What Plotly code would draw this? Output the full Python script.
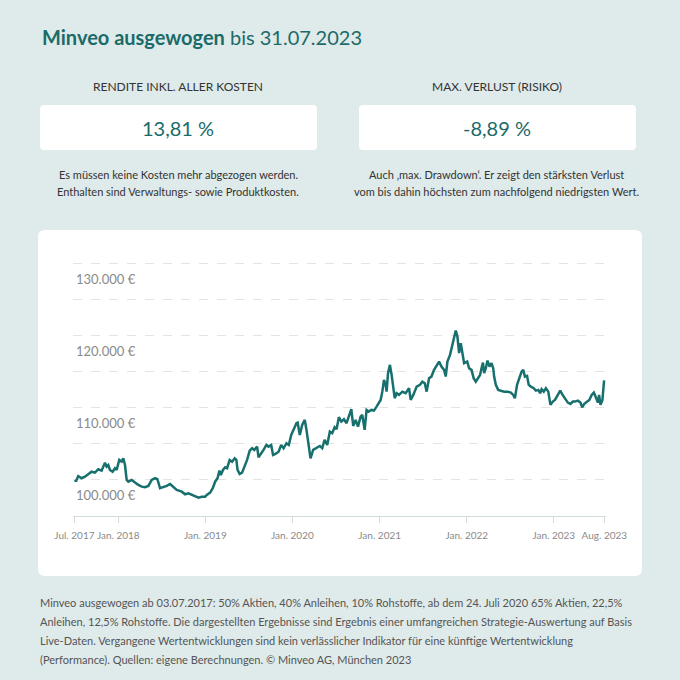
import plotly.graph_objects as go

# --- Daten ---
dates = [
    "2017-07-03", "2017-07-07", "2017-07-17", "2017-07-31", "2017-08-14", "2017-08-28",
    "2017-09-11", "2017-09-25", "2017-10-09", "2017-10-23", "2017-11-06", "2017-11-13",
    "2017-11-20", "2017-11-27", "2017-12-08", "2017-12-18", "2017-12-25", "2018-01-05",
    "2018-01-15", "2018-01-22", "2018-01-29", "2018-02-05", "2018-02-12", "2018-02-26",
    "2018-03-12", "2018-03-26", "2018-04-09", "2018-04-23", "2018-05-07", "2018-05-21",
    "2018-06-04", "2018-06-14", "2018-06-25", "2018-07-09", "2018-07-23", "2018-08-06",
    "2018-08-20", "2018-09-03", "2018-09-24", "2018-10-08", "2018-10-22", "2018-11-05",
    "2018-11-19", "2018-12-03", "2018-12-17", "2018-12-31",
    "2019-01-07", "2019-01-21", "2019-02-01", "2019-02-11", "2019-02-21", "2019-03-01",
    "2019-03-07", "2019-03-16", "2019-03-25", "2019-04-02", "2019-04-13", "2019-04-23",
    "2019-05-04", "2019-05-11", "2019-05-16", "2019-05-25", "2019-06-04", "2019-06-13",
    "2019-06-25", "2019-07-06", "2019-07-16", "2019-07-25", "2019-08-06", "2019-08-12",
    "2019-08-23", "2019-09-02", "2019-09-14", "2019-09-23", "2019-10-04", "2019-10-12",
    "2019-10-22", "2019-11-04", "2019-11-15", "2019-11-25", "2019-12-07", "2019-12-17",
    "2019-12-27",
    "2020-01-07", "2020-01-18", "2020-01-23", "2020-02-01", "2020-02-11", "2020-02-22",
    "2020-02-29", "2020-03-10", "2020-03-17", "2020-03-28", "2020-04-11", "2020-04-25",
    "2020-05-05", "2020-05-15", "2020-05-26", "2020-06-06", "2020-06-16", "2020-06-26",
    "2020-07-04", "2020-07-14", "2020-07-24", "2020-08-04", "2020-08-15", "2020-08-25",
    "2020-09-04", "2020-09-12", "2020-09-22", "2020-10-02", "2020-10-13", "2020-10-20",
    "2020-10-30", "2020-11-07", "2020-11-17", "2020-11-27", "2020-12-08", "2020-12-19",
    "2020-12-29",
    "2021-01-05", "2021-01-12", "2021-01-19", "2021-01-26", "2021-01-30", "2021-02-05",
    "2021-02-13", "2021-02-20", "2021-02-27", "2021-03-05", "2021-03-13", "2021-03-23",
    "2021-04-06", "2021-04-20", "2021-05-04", "2021-05-11", "2021-05-22", "2021-06-05",
    "2021-06-19", "2021-06-29", "2021-07-09", "2021-07-17", "2021-07-27", "2021-08-06",
    "2021-08-17", "2021-08-28", "2021-09-07", "2021-09-17", "2021-09-28", "2021-10-05",
    "2021-10-12", "2021-10-23", "2021-10-30", "2021-11-06", "2021-11-16", "2021-11-23",
    "2021-11-30", "2021-12-07", "2021-12-14", "2021-12-21",
    "2022-01-03", "2022-01-11", "2022-01-21", "2022-01-30", "2022-02-08", "2022-02-18",
    "2022-02-26", "2022-03-04", "2022-03-10", "2022-03-15", "2022-03-22", "2022-03-29",
    "2022-04-07", "2022-04-15", "2022-04-22", "2022-04-26", "2022-05-03", "2022-05-13",
    "2022-05-24", "2022-06-07", "2022-06-21", "2022-07-05", "2022-07-15", "2022-07-22",
    "2022-07-31", "2022-08-09", "2022-08-19", "2022-08-26", "2022-09-02", "2022-09-11",
    "2022-09-18", "2022-09-27", "2022-10-09", "2022-10-18", "2022-10-28", "2022-11-05",
    "2022-11-11", "2022-11-20", "2022-11-29", "2022-12-09", "2022-12-18", "2022-12-28",
    "2023-01-06", "2023-01-18", "2023-01-28", "2023-02-07", "2023-02-17", "2023-03-01",
    "2023-03-12", "2023-03-22", "2023-03-31", "2023-04-12", "2023-04-23", "2023-04-30",
    "2023-05-09", "2023-05-21", "2023-05-30", "2023-06-09", "2023-06-18", "2023-06-28",
    "2023-07-05", "2023-07-10", "2023-07-16", "2023-07-24", "2023-07-28", "2023-07-31",
]

werte = [
    100000, 99800, 100550, 100240, 100460, 100830,
    101150, 101010, 101490, 101290, 102400, 101850,
    102080, 101390, 101150, 101630, 101390, 102780,
    102540, 103010, 102080, 100000, 99760, 100000,
    99620, 99310, 99070, 98990, 99170, 100000,
    100240, 100100, 98850, 98990, 99170, 99440,
    98990, 98610, 98380, 98010, 98150, 97920,
    97680, 97540, 97680, 97680,
    97920, 98240, 98850, 99760, 100240, 101290,
    100690, 101390, 101760, 101630, 102780, 102540,
    103010, 102780, 101390, 100830, 101010, 101760,
    102780, 104070, 104400, 104170, 104630, 103150,
    103790, 104170, 104860, 104630, 104860, 103470,
    103610, 103930, 104860, 104400, 105100, 104860,
    106250,
    107040, 107880, 107960, 106250, 107640, 108330,
    106950, 104630, 103010, 104170, 104400, 104720,
    104400, 105560, 104860, 106710, 106490, 107320,
    107040, 108710, 108100, 108430, 107880, 108790,
    109820, 107500, 108330, 107400, 108790, 109030,
    106950, 109720, 109490, 109720, 109630, 110180,
    110650,
    111110, 112260, 113890, 113200, 112260, 114820,
    115970, 114580, 112960, 111350, 112040, 111810,
    112260, 112040, 112740, 111110, 111810, 112960,
    113200, 113650, 113430, 112260, 114130, 114350,
    115280, 115970, 116430, 115740, 115280, 114350,
    116430, 117360, 118290, 119450, 120740, 119900,
    117600, 118990, 117600, 116210,
    116430, 115510, 115280, 114130, 113650, 114130,
    114580, 115510, 116290, 114820, 115510, 116570,
    115740, 116210, 115510, 114350, 113200, 112500,
    112400, 112260, 112260, 112130, 111810, 111350,
    113200, 113990, 115040, 115280, 114350, 114450,
    113200, 112960, 112740, 112400, 112500, 112040,
    112600, 112260, 112740, 112260, 110420, 110880,
    111110, 111810, 112400, 111810, 111350, 110740,
    110560, 110880, 110880, 111010, 110740, 110100,
    110560, 110880, 111110, 111810, 112130, 111350,
    110740, 111810, 110420, 111110, 112500, 113810,
]

x_tick_daten = ["2017-07-01", "2018-01-01", "2019-01-01", "2020-01-01",
                "2021-01-01", "2022-01-01", "2023-01-01", "2023-08-01"]
x_tick_text = ["Jul. 2017", "Jan. 2018", "Jan. 2019", "Jan. 2020",
               "Jan. 2021", "Jan. 2022", "Jan. 2023", "Aug. 2023"]
y_label_werte = [100000, 110000, 120000, 130000]
y_label_text = ["100.000 €", "110.000 €", "120.000 €", "130.000 €"]

kennzahlen = ["13,81 %", "-8,89 %"]
kennzahl_titel = ["RENDITE INKL. ALLER KOSTEN", "MAX. VERLUST (RISIKO)"]
kennzahl_text = [
    ["Es müssen keine Kosten mehr abgezogen werden.",
     "Enthalten sind Verwaltungs- sowie Produktkosten."],
    ["Auch ‚max. Drawdown‘. Er zeigt den stärksten Verlust",
     "vom bis dahin höchsten zum nachfolgend niedrigsten Wert."],
]
fussnote = [
    "Minveo ausgewogen ab 03.07.2017: 50% Aktien, 40% Anleihen, 10% Rohstoffe, ab dem 24. Juli 2020 65% Aktien, 22,5%",
    "Anleihen, 12,5% Rohstoffe. Die dargestellten Ergebnisse sind Ergebnis einer umfangreichen Strategie-Auswertung auf Basis",
    "Live-Daten. Vergangene Wertentwicklungen sind kein verlässlicher Indikator für eine künftige Wertentwicklung",
    "(Performance). Quellen: eigene Berechnungen. © Minveo AG, München 2023",
]

W = H = 680
TEAL = "#1b6b69"
BG = "#dfeaea"
FONT = "Lato"


def px_x(p):
    return p / W


def px_y(p):
    return 1 - p / H


def rund_rechteck(x0, y0, x1, y1, r):
    # abgerundetes Rechteck in Pixeln -> Pfad in Paper-Koordinaten
    a, b, c, d = px_x(x0), px_x(x1), px_y(y0), px_y(y1)
    rx, ry = r / W, r / H
    return (f"M {a+rx},{c} L {b-rx},{c} Q {b},{c} {b},{c-ry} "
            f"L {b},{d+ry} Q {b},{d} {b-rx},{d} L {a+rx},{d} "
            f"Q {a},{d} {a},{d+ry} L {a},{c-ry} Q {a},{c} {a+rx},{c} Z")


fig = go.Figure()

fig.add_trace(go.Scatter(
    x=dates, y=werte, mode="lines",
    line=dict(color="#17706d", width=2.5),
    hoverinfo="skip", showlegend=False,
))

shapes = [
    dict(type="path", xref="paper", yref="paper", path=rund_rechteck(38, 230, 642, 576, 7),
         fillcolor="white", line=dict(width=0), layer="below"),
    dict(type="path", xref="paper", yref="paper", path=rund_rechteck(40, 105, 317, 150, 4),
         fillcolor="white", line=dict(width=0), layer="below"),
    dict(type="path", xref="paper", yref="paper", path=rund_rechteck(359, 105, 636, 150, 4),
         fillcolor="white", line=dict(width=0), layer="below"),
]

annotations = [
    dict(x=px_x(40), y=px_y(37), xref="paper", yref="paper", xanchor="left", yanchor="middle",
         text="<b>Minveo ausgewogen</b> bis 31.07.2023", showarrow=False,
         font=dict(family=FONT, size=20, color=TEAL)),
]

spalten_mitte = [178, 497]
for i, mx in enumerate(spalten_mitte):
    annotations.append(dict(x=px_x(mx), y=px_y(86), xref="paper", yref="paper",
                            xanchor="center", yanchor="middle", text=kennzahl_titel[i],
                            showarrow=False, font=dict(family=FONT, size=12, color="#333333")))
    annotations.append(dict(x=px_x(mx), y=px_y(128), xref="paper", yref="paper",
                            xanchor="center", yanchor="middle", text=kennzahlen[i],
                            showarrow=False, font=dict(family=FONT, size=20, color=TEAL)))
    for j, zeile in enumerate(kennzahl_text[i]):
        annotations.append(dict(x=px_x(mx), y=px_y(174 + j * 17), xref="paper", yref="paper",
                                xanchor="center", yanchor="middle", text=zeile,
                                showarrow=False, font=dict(family=FONT, size=11, color="#333333")))

for j, zeile in enumerate(fussnote):
    annotations.append(dict(x=px_x(38), y=px_y(602 + j * 19), xref="paper", yref="paper",
                            xanchor="left", yanchor="middle", text=zeile,
                            showarrow=False, font=dict(family=FONT, size=11, color="#555555")))

# y-Beschriftungen unterhalb der Gitterlinien, wie im Original
for v, t in zip(y_label_werte, y_label_text):
    annotations.append(dict(x=px_x(74), y=v, xref="paper", yref="y", yshift=-15,
                            xanchor="left", yanchor="middle", text=t, showarrow=False,
                            font=dict(family=FONT, size=13, color="#8a8a8a")))

fig.update_layout(
    width=W, height=H, autosize=False,
    margin=dict(l=0, r=0, t=0, b=0, pad=0),
    paper_bgcolor=BG, plot_bgcolor="rgba(0,0,0,0)",
    shapes=shapes, annotations=annotations,
    font=dict(family=FONT),
    xaxis=dict(
        domain=[px_x(73), px_x(606)], automargin=False,
        type="date", range=["2017-06-25", "2023-08-08"],
        tickvals=x_tick_daten, ticktext=x_tick_text, tickangle=0,
        showgrid=False, zeroline=False,
        showline=True, linecolor="#d3dcdc", linewidth=1,
        ticks="outside", ticklen=6, tickcolor="#d3dcdc",
        ticklabelstandoff=4,
        tickfont=dict(family=FONT, size=10, color="#8a8a8a"),
    ),
    yaxis=dict(
        domain=[px_y(516), px_y(253)], automargin=False,
        range=[95000, 131500],
        tick0=95000, dtick=5000,
        showticklabels=False, ticks="",
        showgrid=True, gridcolor="#e4e4e4", gridwidth=1, griddash="dash",
        zeroline=False, showline=False,
    ),
)

# Seitenrand des Browsers entfernen, damit die Grafik bündig sitzt
fig.write_html("out.html", config={"displayModeBar": False},
               post_script="document.body.style.margin = '0';")
